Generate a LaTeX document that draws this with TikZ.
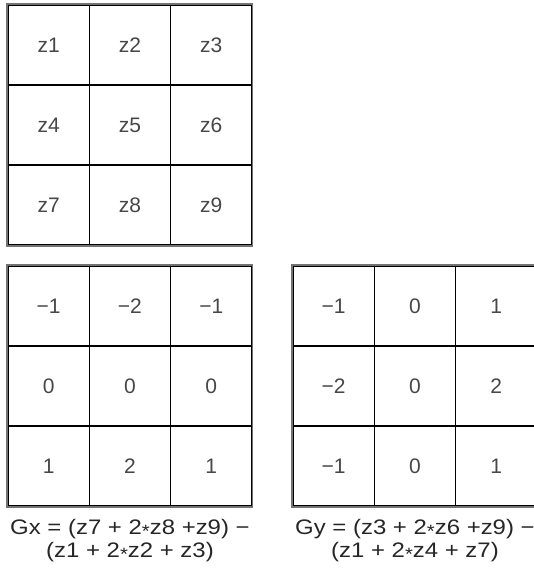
\documentclass[tikz,border=0pt]{standalone}
\usepackage{fontspec}
\setmainfont{Liberation Sans}
\newfontfamily\eqfont{Liberation Sans}[FakeStretch=1.14]
\usetikzlibrary{positioning}

% small centred asterisk as in the printed formulas
\newcommand{\tms}{\smash{\raisebox{-0.3ex}{\scalebox{0.85}{*}}}}

\begin{document}
\begin{tikzpicture}[x=1pt, y=-1pt,
  cell/.style={draw=black, line width=1.3pt, minimum width=81.3pt, minimum height=80pt, inner sep=0pt, font=\fontsize{21}{25}\selectfont, text=black!72},
  frame/.style={draw=black!55, line width=1.8pt},
  formula/.style={font=\eqfont\fontsize{21}{23.5}\selectfont, text=black!85, align=center, inner sep=0pt},
]
\clip (0,0) rectangle (534,574);

% pixel grid z1..z9
\foreach \r in {0,1,2} {
  \foreach \c in {1,2,3} {
    \pgfmathtruncatemacro{\k}{3*\r+\c}
    \node[cell] (z\k) at ({8+81.3*(\c-0.5)}, {5+80*(\r+0.5)}) {z\k};
  }
}
\draw[frame] (z1.north west) rectangle (z9.south east);

% Gx kernel
\foreach \v [count=\i] in {−1,−2,−1,0,0,0,1,2,1} {
  \pgfmathtruncatemacro{\r}{(\i-1)/3}
  \pgfmathtruncatemacro{\c}{\i-3*\r}
  \node[cell] (gx\i) at ({8+81.3*(\c-0.5)}, {266+80*(\r+0.5)}) {\v};
}
\draw[frame] (gx1.north west) rectangle (gx9.south east);

% Gy kernel (right column runs off the page)
\foreach \v [count=\i] in {−1,0,1,−2,0,2,−1,0,1} {
  \pgfmathtruncatemacro{\r}{(\i-1)/3}
  \pgfmathtruncatemacro{\c}{\i-3*\r}
  \node[cell] (gy\i) at ({293+81.3*(\c-0.5)}, {266+80*(\r+0.5)}) {\v};
}
\draw[frame] (gy1.north west) rectangle (gy9.south east);

\node[formula, below=12pt of gx8] (gxeq) {Gx = (z7 + 2\tms z8 +z9) −\\(z1 + 2\tms z2 + z3)};
\node[formula, below=12pt of gy8] (gyeq) {Gy = (z3 + 2\tms z6 +z9) −\\(z1 + 2\tms z4 + z7)};
\end{tikzpicture}
\end{document}
